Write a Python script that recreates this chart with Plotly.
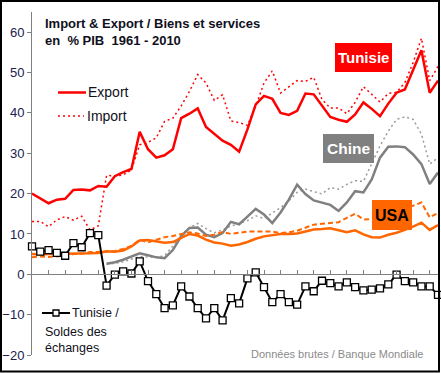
import plotly.graph_objects as go

years = list(range(1961, 2011))

tun_export = [20.0, 18.8, 17.6, 18.5, 18.7, 20.9, 21.0, 20.8, 21.9, 21.7,
              24.3, 25.3, 26.1, 35.3, 31.0, 28.9, 29.5, 31.0, 38.7, 39.8,
              41.1, 36.5, 34.7, 33.1, 32.1, 30.4, 35.9, 42.1, 44.2, 43.5,
              40.0, 39.5, 40.5, 44.8, 44.6, 41.7, 39.0, 38.3, 37.8, 39.6,
              42.6, 41.0, 39.2, 42.3, 45.0, 45.8, 50.5, 55.5, 45.0, 48.0]
tun_import = [13.1, 13.1, 11.8, 13.5, 14.3, 13.4, 14.4, 11.0, 12.0, 24.5,
              24.4, 24.6, 25.9, 32.1, 32.7, 33.8, 37.9, 38.7, 41.7, 45.3,
              49.5, 47.4, 43.1, 44.5, 38.0, 37.6, 36.9, 41.6, 47.4, 50.4,
              44.9, 46.4, 48.0, 47.8, 48.8, 43.3, 41.2, 41.2, 39.8, 42.6,
              46.5, 44.6, 42.7, 44.8, 45.1, 47.5, 52.5, 58.5, 48.0, 51.5]
tun_balance = [6.9, 5.6, 6.0, 5.3, 4.6, 7.7, 6.7, 10.2, 9.7, -2.8,
               -0.1, 0.7, 0.2, 3.2, -1.7, -4.9, -8.4, -7.7, -3.0, -5.5,
               -8.4, -10.9, -8.4, -11.4, -5.9, -7.2, -1.0, 0.5, -3.2, -6.9,
               -4.9, -6.9, -7.5, -3.0, -4.2, -1.6, -2.2, -3.0, -2.0, -3.2,
               -4.0, -3.8, -3.5, -2.5, -0.1, -1.7, -2.0, -3.0, -3.0, -5.1]
chn_export = [None] * 9 + [
    2.6, 3.0, 3.6, 4.4, 5.2, 4.7, 4.2, 4.0, 6.0, 9.4,
    11.5, 11.6, 9.8, 9.2, 10.2, 13.0, 12.4, 14.3, 16.2, 14.8,
    12.7, 15.3, 18.5, 22.2, 19.9, 18.3, 17.8, 17.2, 15.7, 17.8,
    20.6, 20.3, 23.5, 28.9, 31.6, 31.7, 31.5, 29.7, 27.3, 22.4, 25.2]
chn_import = [None] * 9 + [
    2.5, 2.7, 3.1, 3.8, 4.4, 4.3, 4.2, 4.6, 7.0, 9.8,
    11.5, 12.6, 11.3, 10.3, 11.0, 12.0, 12.5, 13.3, 14.5, 13.8,
    15.2, 16.5, 18.2, 20.3, 21.1, 20.5, 19.9, 21.5, 21.1, 22.3,
    23.2, 23.0, 27.3, 31.8, 35.5, 38.4, 39.0, 38.4, 34.7, 27.3, 28.9]
usa_export = [5.0, 4.9, 5.0, 5.2, 5.1, 5.1, 5.1, 5.2, 5.3, 5.7,
              5.6, 5.9, 6.9, 8.4, 8.5, 8.2, 7.8, 8.0, 9.0, 10.0,
              9.6, 8.6, 7.9, 7.6, 7.1, 7.4, 8.0, 8.8, 9.4, 9.7,
              10.0, 10.0, 10.1, 10.6, 11.1, 11.2, 11.4, 10.9, 10.4, 10.9,
              9.9, 9.2, 9.1, 9.8, 10.3, 11.0, 11.8, 12.8, 11.0, 12.2]
usa_import = [4.2, 4.4, 4.3, 4.4, 4.6, 5.0, 5.1, 5.5, 5.5, 5.6,
              5.8, 6.3, 7.0, 8.6, 7.9, 8.6, 9.2, 9.5, 10.0, 10.4,
              10.1, 9.5, 9.8, 10.5, 10.0, 10.3, 10.6, 10.6, 10.6, 10.6,
              10.2, 10.4, 10.8, 11.6, 12.3, 12.5, 12.7, 12.9, 14.0, 15.0,
              13.6, 13.7, 14.1, 15.3, 16.1, 16.7, 17.0, 17.8, 14.1, 15.2]
y_ticks = [-20, -10, 0, 10, 20, 30, 40, 50, 60]

RED = "#FF0000"
GRAY = "#808080"
LGRAY = "#9A9A9A"
ORANGE = "#FF6600"
FONT = "Arial, Liberation Sans, sans-serif"

W, H = 441, 373
L, R, T, B = 32, 3, 12, 18
PW, PH = W - L - R, H - T - B
YMIN, YMAX = -20, 65


def px(x):
    return (x - L) / PW


def py(y):
    return (H - B - y) / PH


fig = go.Figure()
fig.add_trace(go.Scatter(x=years, y=chn_import, mode="lines",
                         line=dict(color=LGRAY, width=1.5, dash="2px,3px")))
fig.add_trace(go.Scatter(x=years, y=chn_export, mode="lines",
                         line=dict(color=GRAY, width=2.5)))
fig.add_trace(go.Scatter(x=years, y=usa_import, mode="lines",
                         line=dict(color=ORANGE, width=2, dash="5px,3px")))
fig.add_trace(go.Scatter(x=years, y=usa_export, mode="lines",
                         line=dict(color=ORANGE, width=2.5)))
fig.add_trace(go.Scatter(x=years, y=tun_import, mode="lines",
                         line=dict(color=RED, width=1.5, dash="2px,3px")))
fig.add_trace(go.Scatter(x=years, y=tun_export, mode="lines",
                         line=dict(color=RED, width=2.5)))
fig.add_trace(go.Scatter(x=years, y=tun_balance, mode="lines+markers",
                         line=dict(color="black", width=2),
                         marker=dict(symbol="square", size=7, color="white",
                                     line=dict(color="black", width=1.3)),
                         cliponaxis=False))

shapes = []
# legend samples
shapes.append(dict(type="line", xref="paper", yref="paper",
                   x0=px(58), x1=px(86), y0=py(92.5), y1=py(92.5),
                   line=dict(color=RED, width=2.5)))
shapes.append(dict(type="line", xref="paper", yref="paper",
                   x0=px(58), x1=px(84), y0=py(116), y1=py(116),
                   line=dict(color=RED, width=1.5, dash="2px,3px")))
shapes.append(dict(type="line", xref="paper", yref="paper",
                   x0=px(42), x1=px(70), y0=py(313), y1=py(313),
                   line=dict(color="black", width=2)))
shapes.append(dict(type="rect", xref="paper", yref="paper",
                   x0=px(53), x1=px(59), y0=py(316), y1=py(310),
                   fillcolor="white", line=dict(color="black", width=1.3)))
# label boxes
shapes.append(dict(type="rect", xref="paper", yref="paper",
                   x0=px(335), x1=px(392), y0=py(72), y1=py(43),
                   fillcolor=RED, line=dict(width=0)))
shapes.append(dict(type="rect", xref="paper", yref="paper",
                   x0=px(323), x1=px(374), y0=py(163), y1=py(134),
                   fillcolor=GRAY, line=dict(width=0)))
shapes.append(dict(type="rect", xref="paper", yref="paper",
                   x0=px(372), x1=px(412), y0=py(230), y1=py(200),
                   fillcolor=ORANGE, line=dict(width=0)))
# frame
shapes.append(dict(type="rect", xref="paper", yref="paper",
                   x0=px(1), x1=px(439), y0=py(371.5), y1=py(1),
                   line=dict(color="black", width=2)))

TXT = "#101020"
ann = []


def add_text(x, y, text, size, color=TXT, bold=False, xanchor="left"):
    t = "<b>%s</b>" % text if bold else text
    ann.append(dict(xref="paper", yref="paper", x=px(x), y=py(y), text=t,
                    showarrow=False, xanchor=xanchor, yanchor="middle",
                    font=dict(family=FONT, size=size, color=color),
                    borderpad=0))


add_text(44, 24, "Import &amp; Export / Biens et services", 13, bold=True)
add_text(44, 41, "en \u00a0% PIB \u00a01961 - 2010", 13, bold=True)
add_text(87, 92, "Export", 14)
add_text(86, 116, "Import", 14)
add_text(71, 313, "Tunisie /", 12.5)
add_text(44, 331.5, "Soldes des", 12.5)
add_text(44, 348, "échanges", 12.5)
add_text(363.5, 57.5, "Tunisie", 15, color="white", bold=True, xanchor="center")
add_text(348.5, 148.5, "Chine", 15.5, color="white", bold=True, xanchor="center")
add_text(392, 215, "USA", 16, color="black", bold=True, xanchor="center")
add_text(250, 354, "Données brutes / Banque Mondiale", 11, color="#8A8A8A")

fig.update_layout(
    width=W, height=H,
    margin=dict(l=L, r=R, t=T, b=B, pad=0),
    paper_bgcolor="white", plot_bgcolor="white",
    showlegend=False,
    shapes=shapes, annotations=ann,
    font=dict(family=FONT, size=13, color="#202050"),
    xaxis=dict(range=[1961, 2010], anchor="free",
               position=(0 - YMIN) / (YMAX - YMIN),
               showline=True, linecolor=GRAY, linewidth=1,
               ticks="inside", ticklen=4, tickcolor=GRAY, tickwidth=1,
               tickmode="linear", tick0=1961, dtick=2,
               showticklabels=False, showgrid=False, zeroline=False),
    yaxis=dict(range=[YMIN, YMAX], tickvals=y_ticks,
               showline=True, linecolor=GRAY, linewidth=1,
               ticks="outside", ticklen=4, tickcolor=GRAY,
               showgrid=False, zeroline=False,
               tickfont=dict(family=FONT, size=13, color="#202050")),
)

fig.write_html("out.html",
               config={"displayModeBar": False},
               post_script="document.body.style.margin='0';"
                           "document.body.style.padding='0';"
                           "document.body.style.overflow='hidden';")
